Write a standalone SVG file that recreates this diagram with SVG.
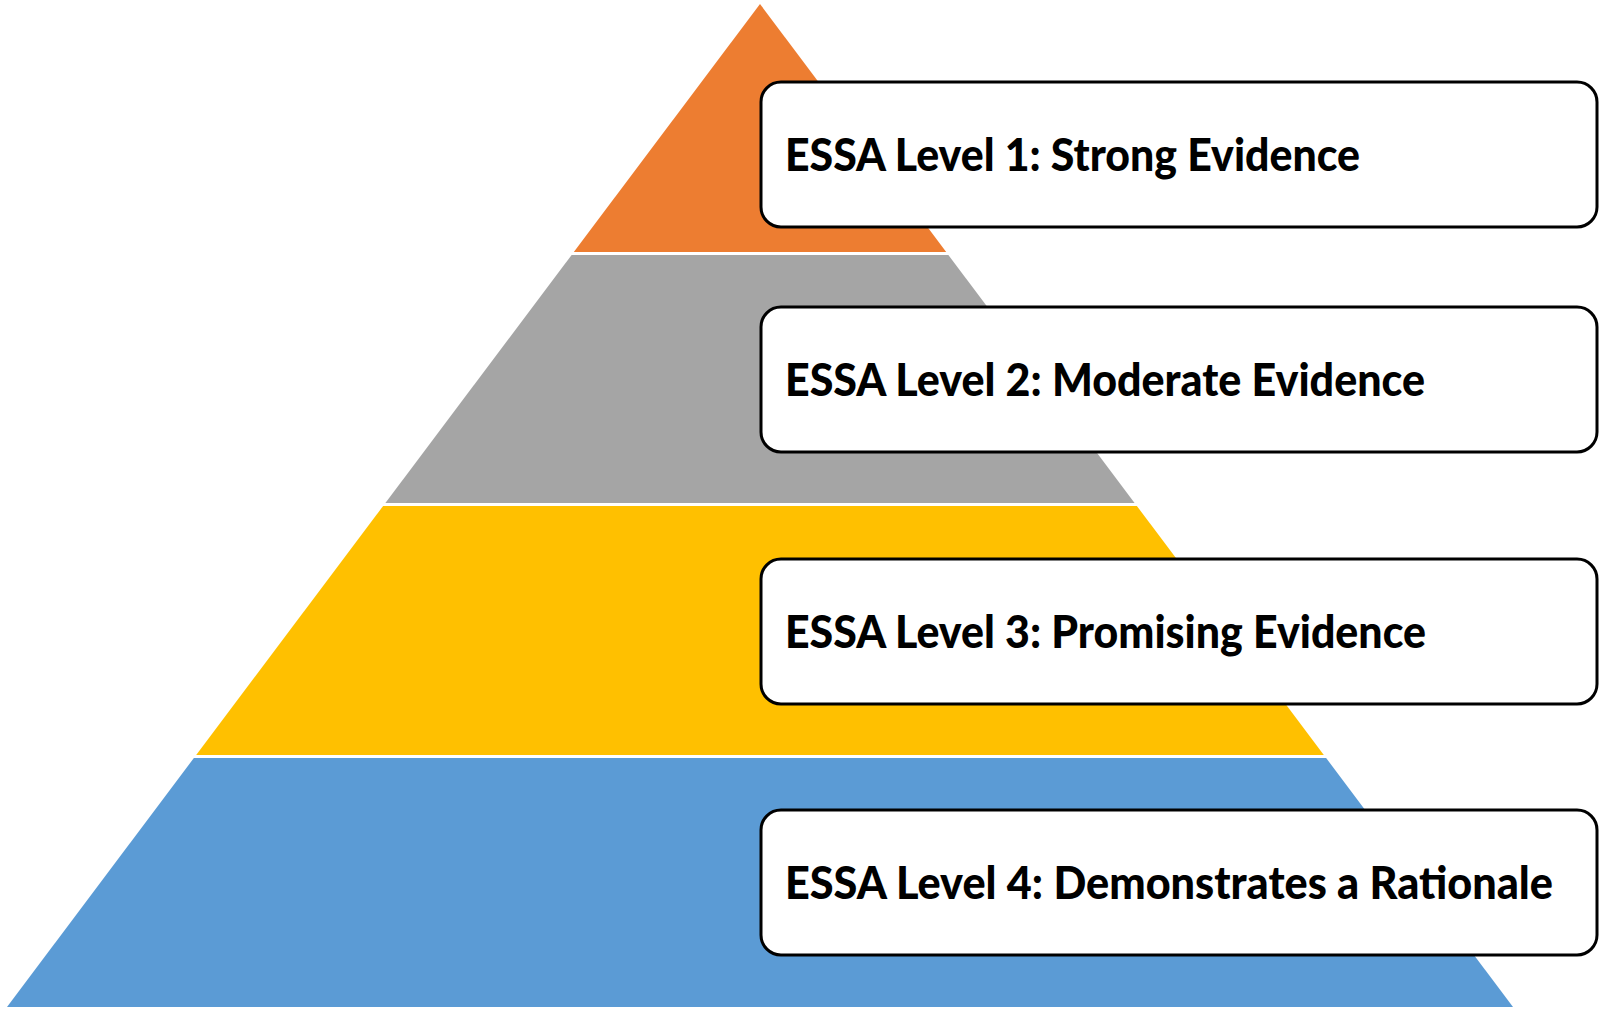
<svg xmlns="http://www.w3.org/2000/svg" width="1600" height="1012" viewBox="0 0 1600 1012">
<style>
.box{fill:#fff;stroke:#000;stroke-width:3}
.lbl{font-family:Lato,"Open Sans","Liberation Sans",sans-serif;font-weight:900;font-size:46px;fill:#000}
</style>
<rect width="1600" height="1012" fill="#fff"/>
<g id="pyramid">
<polygon id="band1" points="760,4 946.2,252 573.8,252" fill="#ED7D31"/>
<polygon id="band2" points="571.6,255 948.4,255 1134.6,503 385.4,503" fill="#A5A5A5"/>
<polygon id="band3" points="383.1,506 1136.9,506 1323.8,755 196.2,755" fill="#FFC000"/>
<polygon id="band4" points="193.9,758 1326.1,758 1513,1007 7,1007" fill="#5B9BD5"/>
</g>
<g id="connectors"></g>
<g id="node1">
<rect class="box" x="761" y="82" width="836" height="145" rx="20"/>
<text class="lbl" x="785" y="171" textLength="575" lengthAdjust="spacingAndGlyphs">ESSA Level 1: Strong Evidence</text>
</g>
<g id="node2">
<rect class="box" x="761" y="307" width="836" height="145" rx="20"/>
<text class="lbl" x="785" y="396" textLength="640" lengthAdjust="spacingAndGlyphs">ESSA Level 2: Moderate Evidence</text>
</g>
<g id="node3">
<rect class="box" x="761" y="559" width="836" height="145" rx="20"/>
<text class="lbl" x="785" y="648" textLength="641" lengthAdjust="spacingAndGlyphs">ESSA Level 3: Promising Evidence</text>
</g>
<g id="node4">
<rect class="box" x="761" y="810" width="836" height="145" rx="20"/>
<text class="lbl" x="785" y="899" textLength="768" lengthAdjust="spacingAndGlyphs">ESSA Level 4: Demonstrates a Rationale</text>
</g>
</svg>
